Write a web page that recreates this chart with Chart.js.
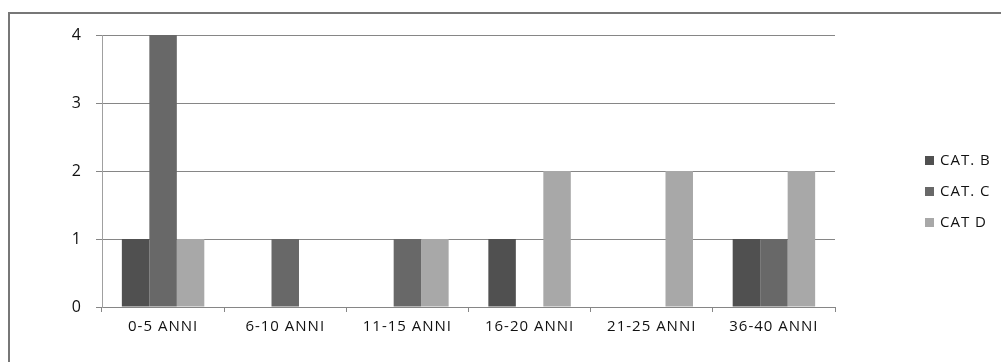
<!DOCTYPE html>
<html>
<head>
<meta charset="utf-8">
<script src="https://cdn.jsdelivr.net/npm/chart.js@4.4.1/dist/chart.umd.min.js"></script>
<style>
  html, body { margin: 0; padding: 0; background: #fff; }
  #wrap { position: relative; width: 1001px; height: 362px; overflow: hidden; }
  #frame { position: absolute; left: 8px; top: 12px; width: 1100px; height: 400px;
           border-left: 2px solid #777; border-top: 2px solid #777; box-sizing: border-box; }
  canvas { position: absolute; left: 0; top: 0; }
</style>
</head>
<body>
<div id="wrap">
  <div id="frame"></div>
  <canvas id="c" width="1001" height="362"></canvas>
</div>
<script>
// Age ranges and counts per category
const categories = ['0-5 ANNI', '6-10 ANNI', '11-15 ANNI', '16-20 ANNI', '21-25 ANNI', '36-40 ANNI'];
const catB = [1, 0, 0, 1, 0, 1];
const catC = [4, 1, 1, 0, 0, 1];
const catD = [1, 0, 1, 2, 2, 2];
const seriesNames = ['CAT. B', 'CAT. C', 'CAT D'];
const seriesColors = ['#505050', '#686868', '#a8a8a8'];
const yTicks = [0, 1, 2, 3, 4];

const FONT = '"Open Sans", Lato, sans-serif';
const SPACING = '1px';
const TEXT = '#111';

// Slightly open letter spacing for all chart text
const textSpacing = {
  id: 'textSpacing',
  beforeInit(chart) { chart.ctx.letterSpacing = SPACING; },
  beforeLayout(chart) { chart.ctx.letterSpacing = SPACING; },
  beforeDraw(chart) { chart.ctx.letterSpacing = SPACING; }
};

// Legend drawn at the right of the plot
const sideLegend = {
  id: 'sideLegend',
  afterDraw(chart) {
    const ctx = chart.ctx;
    ctx.save();
    ctx.letterSpacing = SPACING;
    ctx.font = '15px ' + FONT;
    ctx.textBaseline = 'middle';
    chart.data.datasets.forEach((ds, i) => {
      const y = 160 + i * 31;
      ctx.fillStyle = ds.backgroundColor;
      ctx.fillRect(925, y - 4, 9, 9);
      ctx.fillStyle = TEXT;
      ctx.fillText(ds.label, 940, y + 1);
    });
    ctx.restore();
  }
};

const data = {
  labels: categories,
  datasets: [catB, catC, catD].map((vals, i) => ({
    label: seriesNames[i],
    data: vals,
    backgroundColor: seriesColors[i],
    borderWidth: 0,
    categoryPercentage: 0.675,
    barPercentage: 1.0
  }))
};

new Chart(document.getElementById('c'), {
  type: 'bar',
  data,
  plugins: [textSpacing, sideLegend],
  options: {
    responsive: false,
    animation: false,
    events: [],
    layout: { padding: { left: 0, top: 35, right: 166, bottom: 0 } },
    plugins: { legend: { display: false }, tooltip: { enabled: false } },
    scales: {
      x: {
        grid: { display: true, drawOnChartArea: false, drawTicks: true, tickLength: 5,
                color: '#868686', offset: true },
        border: { color: '#868686', width: 1 },
        ticks: { color: TEXT, font: { family: FONT, size: 15 }, padding: 6, maxRotation: 0 },
        afterFit(scale) { scale.height = 55; }
      },
      y: {
        min: 0, max: 4,
        afterBuildTicks(scale) { scale.ticks = yTicks.map(v => ({ value: v })); },
        grid: { color: '#868686', drawTicks: true, tickLength: 6 },
        border: { color: '#a0a0a0', width: 1 },
        ticks: { color: TEXT, font: { family: FONT, size: 16 }, padding: 14 },
        afterFit(scale) { scale.width = 102; }
      }
    }
  }
});
</script>
</body>
</html>
